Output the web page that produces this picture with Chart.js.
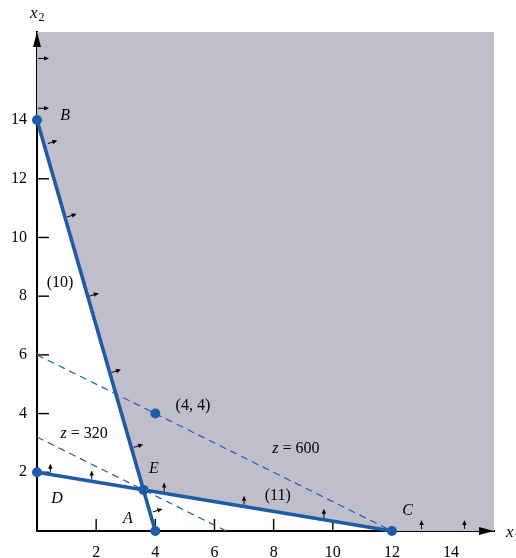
<!DOCTYPE html>
<html>
<head>
<meta charset="utf-8">
<script src="https://cdn.jsdelivr.net/npm/chart.js@4"></script>
<style>
  html, body { margin: 0; padding: 0; background: #fff; }
</style>
</head>
<body>
<canvas id="lp" width="516" height="558"></canvas>
<script>
// ─── Data ─────────────────────────────────────────────────────
const xTicks = [2, 4, 6, 8, 10, 12, 14];
const yTicks = [2, 4, 6, 8, 10, 12, 14];

// lower edge of the feasible (shaded) region
const feasibleEdge = [{x: 0, y: 14}, {x: 3.6, y: 1.4}, {x: 12, y: 0}, {x: 15.45, y: 0}];
const line10 = [{x: 0, y: 14}, {x: 4, y: 0}];
const line11 = [{x: 0, y: 2}, {x: 12, y: 0}];
const z600   = [{x: 0, y: 6}, {x: 12, y: 0}];
const z320   = [{x: 0, y: 3.2}, {x: 6.4, y: 0}];
const corners = [
  {x: 0, y: 14}, {x: 0, y: 2}, {x: 3.6, y: 1.4},
  {x: 4, y: 0}, {x: 12, y: 0}, {x: 4, y: 4}
];

// little direction arrows (base point in data units)
const arrowsRight = [[0, 16.1], [0, 14.4]];
const arrowsLine10 = [[0.3, 13.2], [0.95, 10.7], [1.7, 8.0], [2.45, 5.4], [3.2, 2.85], [3.85, 0.65]];
const arrowsUp = [[0.45, 1.92], [1.85, 1.69], [4.3, 1.28], [7.0, 0.83], [9.7, 0.38], [13.0, 0], [14.45, 0]];

// annotations: [parts, x, y]  parts = [[text, italic], ...]
const notes = [
  [[['B', true]], 0.95, 14.13],
  [[['(10)', false]], 0.78, 8.45],
  [[['(4, 4)', false]], 5.27, 4.26],
  [[['z', true], [' = 320', false]], 1.59, 3.3],
  [[['z', true], [' = 600', false]], 8.75, 2.79],
  [[['E', true]], 3.95, 2.11],
  [[['(11)', false]], 8.14, 1.19],
  [[['D', true]], 0.68, 1.09],
  [[['A', true]], 3.07, 0.41],
  [[['C', true]], 12.53, 0.68],
];

// ─── Style ────────────────────────────────────────────────────
const BLUE = '#1f5ba8';
const SHADE = '#bfbfcc';
const SERIF = '"Liberation Serif", "DejaVu Serif", serif';

// ─── Helpers ──────────────────────────────────────────────────
function arrow(ctx, x0, y0, dx, dy, len) {
  const x1 = x0 + dx * len, y1 = y0 + dy * len;
  ctx.beginPath();
  ctx.moveTo(x0, y0);
  ctx.lineTo(x1 - dx * 3, y1 - dy * 3);
  ctx.stroke();
  const nx = -dy, ny = dx;
  ctx.beginPath();
  ctx.moveTo(x1, y1);
  ctx.lineTo(x1 - dx * 5 + nx * 2.2, y1 - dy * 5 + ny * 2.2);
  ctx.lineTo(x1 - dx * 5 - nx * 2.2, y1 - dy * 5 - ny * 2.2);
  ctx.closePath();
  ctx.fill();
}

function mixedText(ctx, parts, cx, cy) {
  const fonts = parts.map(p => (p[1] ? 'italic ' : '') + '16px ' + SERIF);
  let w = 0;
  parts.forEach((p, i) => { ctx.font = fonts[i]; w += ctx.measureText(p[0]).width; });
  let x = cx - w / 2;
  parts.forEach((p, i) => {
    ctx.font = fonts[i];
    ctx.fillText(p[0], x, cy);
    x += ctx.measureText(p[0]).width;
  });
}

// ─── Plugin: ticks, axis arrows, small arrows, text ───────────
const decor = {
  id: 'decor',
  beforeDatasetsDraw(chart) {
    const {ctx, chartArea: a, scales: {x, y}} = chart;
    ctx.save();
    ctx.strokeStyle = '#000';
    ctx.lineWidth = 1.4;
    // inward tick marks (under the points)
    xTicks.forEach(v => {
      const px = x.getPixelForValue(v);
      ctx.beginPath(); ctx.moveTo(px, a.bottom); ctx.lineTo(px, a.bottom - 12); ctx.stroke();
    });
    yTicks.forEach(v => {
      const py = y.getPixelForValue(v);
      ctx.beginPath(); ctx.moveTo(a.left, py); ctx.lineTo(a.left + 12, py); ctx.stroke();
    });
    ctx.restore();
  },
  afterDatasetsDraw(chart) {
    const {ctx, chartArea: a, scales: {x, y}} = chart;
    ctx.save();
    ctx.strokeStyle = '#000';
    ctx.fillStyle = '#000';

    // axis arrowheads
    ctx.beginPath();
    ctx.moveTo(a.left, a.top);
    ctx.lineTo(a.left - 4, a.top + 15);
    ctx.lineTo(a.left + 4, a.top + 15);
    ctx.closePath(); ctx.fill();
    ctx.beginPath();
    ctx.moveTo(a.right, a.bottom);
    ctx.lineTo(a.right - 15, a.bottom - 4);
    ctx.lineTo(a.right - 15, a.bottom + 4);
    ctx.closePath(); ctx.fill();

    // direction arrows
    ctx.lineWidth = 1;
    arrowsRight.forEach(([vx, vy]) =>
      arrow(ctx, x.getPixelForValue(vx) + 1, y.getPixelForValue(vy), 1, 0, 11));
    const ang = -17 * Math.PI / 180;
    arrowsLine10.forEach(([vx, vy]) =>
      arrow(ctx, x.getPixelForValue(vx) + 2, y.getPixelForValue(vy), Math.cos(ang), Math.sin(ang), 10));
    arrowsUp.forEach(([vx, vy]) =>
      arrow(ctx, x.getPixelForValue(vx), y.getPixelForValue(vy) - 2, 0, -1, 9));

    // annotations
    ctx.textBaseline = 'middle';
    notes.forEach(([parts, vx, vy]) =>
      mixedText(ctx, parts, x.getPixelForValue(vx), y.getPixelForValue(vy)));

    // axis titles
    ctx.textBaseline = 'alphabetic';
    ctx.font = 'italic 17px ' + SERIF;
    ctx.fillText('x', 30, 18);
    ctx.fillText('x', 506, 537);
    ctx.font = '12px ' + SERIF;
    ctx.fillText('2', 38.5, 21);
    ctx.fillText('1', 514, 541);
    ctx.restore();
  }
};

// ─── Chart ────────────────────────────────────────────────────
const lineStyle = {showLine: true, pointRadius: 0, fill: false, clip: false};

new Chart(document.getElementById('lp'), {
  type: 'scatter',
  data: {
    datasets: [
      {data: corners, pointRadius: 5, pointBackgroundColor: BLUE, pointBorderWidth: 0, clip: false, order: 0},
      {data: line10, ...lineStyle, borderColor: BLUE, borderWidth: 3.6, order: 1},
      {data: line11, ...lineStyle, borderColor: BLUE, borderWidth: 3.6, order: 1},
      {data: z600, ...lineStyle, borderColor: BLUE, borderWidth: 1.2, borderDash: [7, 5], order: 2},
      {data: z320, ...lineStyle, borderColor: BLUE, borderWidth: 1.2, borderDash: [7, 5], order: 2},
      {data: feasibleEdge, showLine: true, pointRadius: 0, borderWidth: 0,
       backgroundColor: SHADE, fill: 'end', order: 3},
    ]
  },
  options: {
    responsive: false,
    animation: false,
    layout: {padding: {top: 32, right: 22, left: 0, bottom: 0}},
    plugins: {legend: {display: false}, tooltip: {enabled: false}},
    scales: {
      x: {
        type: 'linear', min: 0, max: 15.45,
        afterBuildTicks: s => { s.ticks = xTicks.map(v => ({value: v})); },
        afterFit: s => { s.height = 27; },
        grid: {display: false, drawTicks: false},
        border: {display: true, color: '#000', width: 2},
        ticks: {padding: 12, color: '#000', font: {family: SERIF, size: 16}, maxRotation: 0}
      },
      y: {
        type: 'linear', min: 0, max: 17,
        afterBuildTicks: s => { s.ticks = yTicks.map(v => ({value: v})); },
        afterFit: s => { s.width = 37; },
        grid: {display: false, drawTicks: false},
        border: {display: true, color: '#000', width: 2},
        ticks: {padding: 10, color: '#000', font: {family: SERIF, size: 16}}
      }
    }
  },
  plugins: [decor]
});
</script>
</body>
</html>
